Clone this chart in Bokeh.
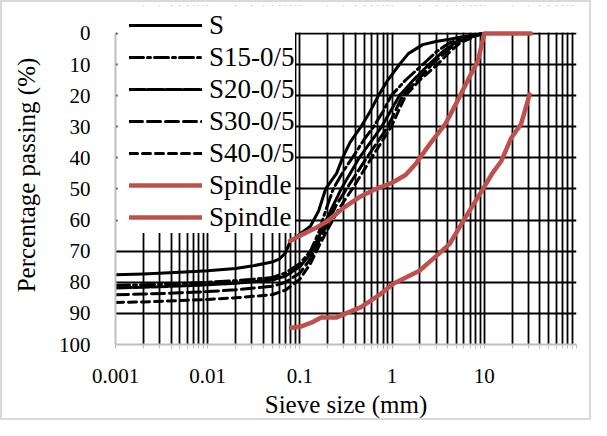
from bokeh.plotting import figure
from bokeh.models import (Range1d, FixedTicker, CustomJSTickFormatter, Legend,
                          LegendItem, ColumnDataSource, BoxAnnotation)
from bokeh.embed import file_html
from bokeh.resources import INLINE

# ---- data (sieve size mm, value %) ----
s_x = [0.001, 0.002, 0.005, 0.01, 0.02, 0.03, 0.05, 0.06, 0.07, 0.078, 0.1, 0.13, 0.16, 0.19, 0.25, 0.29, 0.35, 0.46, 0.58, 0.71, 0.9, 1.2, 1.5, 2.15, 3.0, 4.2, 6.0, 8.7, 10.0]
s_y = [77.6, 77.3, 76.8, 76.3, 75.6, 74.8, 73.5, 72.5, 70.5, 67.0, 64.5, 62.0, 57.0, 50.0, 45.0, 40.0, 35.0, 30.0, 25.0, 20.0, 15.0, 10.0, 6.5, 3.6, 2.6, 1.9, 1.0, 0.3, 0.0]

s15_x = [0.001, 0.002, 0.005, 0.01, 0.02, 0.05, 0.07, 0.1, 0.13, 0.16, 0.19, 0.23, 0.3, 0.37, 0.5, 0.63, 0.8, 0.98, 1.4, 2.15, 3.0, 4.2, 6.0, 8.7, 10.0]
s15_y = [81.0, 80.8, 80.4, 80.0, 79.5, 78.5, 77.0, 74.0, 70.0, 64.0, 57.0, 50.0, 44.0, 40.0, 34.0, 30.0, 25.0, 20.0, 15.0, 10.0, 6.0, 3.0, 1.5, 0.3, 0.0]

s20_x = [0.001, 0.002, 0.005, 0.01, 0.02, 0.05, 0.07, 0.1, 0.13, 0.16, 0.2, 0.28, 0.44, 0.77, 1.2, 1.7, 2.5, 3.5, 4.8, 6.5, 8.7, 10.0]
s20_y = [81.8, 81.6, 81.2, 80.8, 80.3, 79.3, 78.0, 75.0, 71.0, 65.5, 59.0, 50.0, 40.0, 30.0, 20.0, 15.0, 10.0, 6.0, 3.0, 1.5, 0.3, 0.0]

s30_x = [0.001, 0.002, 0.005, 0.01, 0.02, 0.05, 0.07, 0.1, 0.13, 0.16, 0.2, 0.25, 0.32, 0.53, 0.9, 1.3, 1.9, 2.7, 3.8, 5.0, 7.0, 9.0, 10.0]
s30_y = [84.0, 83.8, 83.4, 83.0, 82.4, 81.3, 80.0, 77.0, 72.5, 67.0, 61.0, 55.0, 50.0, 40.0, 30.0, 20.0, 15.0, 10.0, 6.0, 3.0, 1.2, 0.3, 0.0]

s40_x = [0.001, 0.002, 0.005, 0.01, 0.02, 0.05, 0.07, 0.1, 0.13, 0.16, 0.2, 0.27, 0.37, 0.6, 0.98, 1.4, 2.0, 3.1, 4.2, 5.5, 7.5, 9.2, 10.0]
s40_y = [86.5, 86.3, 85.9, 85.5, 85.0, 84.0, 82.5, 79.0, 74.0, 68.5, 63.0, 56.0, 50.0, 40.0, 30.0, 20.0, 15.0, 10.0, 6.0, 3.0, 1.2, 0.3, 0.0]

sp1_x = [0.078, 0.1, 0.15, 0.2, 0.3, 0.45, 0.63, 1.0, 1.4, 1.8, 2.56, 3.8, 4.9, 6.8, 8.5, 10.0, 32.0]
sp1_y = [66.7, 65.0, 62.5, 60.3, 56.0, 52.5, 50.3, 48.0, 45.5, 42.0, 35.6, 29.0, 22.8, 14.4, 9.0, 0.0, 0.0]

sp2_x = [0.08, 0.1, 0.133, 0.17, 0.25, 0.46, 0.75, 1.03, 1.98, 2.9, 4.2, 6.2, 9.4, 12.1, 15.3, 19.6, 25.0, 27.5, 31.0]
sp2_y = [94.6, 94.3, 93.0, 91.3, 91.3, 88.0, 83.8, 80.5, 76.3, 72.0, 67.7, 59.3, 50.6, 45.2, 41.0, 33.6, 29.2, 25.0, 19.6]

series_names = ["S", "S15-0/5", "S20-0/5", "S30-0/5", "S40-0/5", "Spindle", "Spindle"]

x_major = [0.001, 0.01, 0.1, 1, 10, 100]
x_minor = [m * d for d in [0.001, 0.01, 0.1, 1, 10] for m in range(2, 10)]
y_ticks = list(range(0, 101, 10))

FONT = "Liberation Serif"
RED = "#c0504d"

p = figure(width=591, height=420, x_axis_type="log",
           x_range=Range1d(0.001, 100), y_range=Range1d(100, -8.97),
           output_backend="svg", toolbar_location=None,
           min_border_left=113, min_border_right=17,
           min_border_top=3, min_border_bottom=78)
p.outline_line_color = None
p.styles = {"border": "2px solid #d9d9d9"}

# axes
p.xaxis.ticker = FixedTicker(ticks=x_major, minor_ticks=x_minor)
p.xaxis.formatter = CustomJSTickFormatter(
    code="return tick >= 100 ? '' : Number(tick.toPrecision(3)).toString();")
p.yaxis.ticker = FixedTicker(ticks=y_ticks)
p.yaxis.bounds = (0, 100)

for ax in (p.xaxis[0], p.yaxis[0]):
    ax.axis_line_color = "#bfbfbf"
    ax.axis_line_width = 2
    ax.major_label_text_font = FONT
    ax.major_label_text_font_size = "21px"
    ax.major_label_text_color = "black"
    ax.axis_label_text_font = FONT
    ax.axis_label_text_font_size = "25px"
    ax.axis_label_text_font_style = "normal"
    ax.axis_label_text_color = "black"

p.xaxis.major_tick_out = 4
p.xaxis.major_tick_in = 0
p.xaxis.minor_tick_out = 4
p.xaxis.minor_tick_in = 0
p.xaxis.major_tick_line_color = "#bfbfbf"
p.xaxis.minor_tick_line_color = "#bfbfbf"
p.xaxis.major_label_standoff = 20
p.xaxis.axis_label = "Sieve size (mm)"
p.xaxis.axis_label_standoff = 5

p.yaxis.major_tick_line_color = None
p.yaxis.minor_tick_line_color = None
p.yaxis.major_tick_out = 0
p.yaxis.major_label_standoff = 25
p.yaxis.axis_label = "Percentage passing (%)"
p.yaxis.axis_label_standoff = 16

# grids
p.xgrid.grid_line_color = "black"
p.xgrid.grid_line_width = 1.8
p.xgrid.minor_grid_line_color = "black"
p.xgrid.minor_grid_line_width = 1.8
p.ygrid.grid_line_color = "black"
p.ygrid.grid_line_width = 1.8

# white cover above the 0 line (area of frame kept for the legend)
cover = BoxAnnotation(bottom=-0.3, fill_color="white", fill_alpha=1.0,
                      line_color=None, level="underlay")
p.add_layout(cover)
# white cover joining the legend box to the axis (only short grid stubs remain)
cover2 = BoxAnnotation(left=0.00105, right=0.00148, bottom=64.0,
                       fill_color="white", fill_alpha=1.0,
                       line_color=None, level="underlay")
p.add_layout(cover2)

# series
specs = [
    (s_x, s_y, "black", 3, "solid"),
    (s15_x, s15_y, "black", 3, "14 4 3 4"),
    (s20_x, s20_y, "black", 3, "16 2"),
    (s30_x, s30_y, "black", 3, "13 5"),
    (s40_x, s40_y, "black", 3, "8 5"),
    (sp1_x, sp1_y, RED, 4.5, "solid"),
    (sp2_x, sp2_y, RED, 4.5, "solid"),
]
items = []
for name, (xs, ys, col, w, dash) in zip(series_names, specs):
    src = ColumnDataSource(data=dict(x=xs, y=ys))
    r = p.line("x", "y", source=src, line_color=col, line_width=w,
               line_dash=dash, line_cap="round", line_join="round")
    items.append(LegendItem(label=name, renderers=[r]))

legend = Legend(items=items, location=(14, 111))
legend.label_text_font = FONT
legend.label_text_font_size = "27px"
legend.label_text_color = "black"
legend.glyph_width = 73
legend.glyph_height = 32
legend.label_height = 32
legend.label_standoff = 7
legend.spacing = 0
legend.padding = 8
legend.margin = 0
legend.border_line_color = None
legend.background_fill_color = "white"
legend.background_fill_alpha = 1.0
p.add_layout(legend, "center")

open("out.html", "w").write(file_html(p, INLINE))
